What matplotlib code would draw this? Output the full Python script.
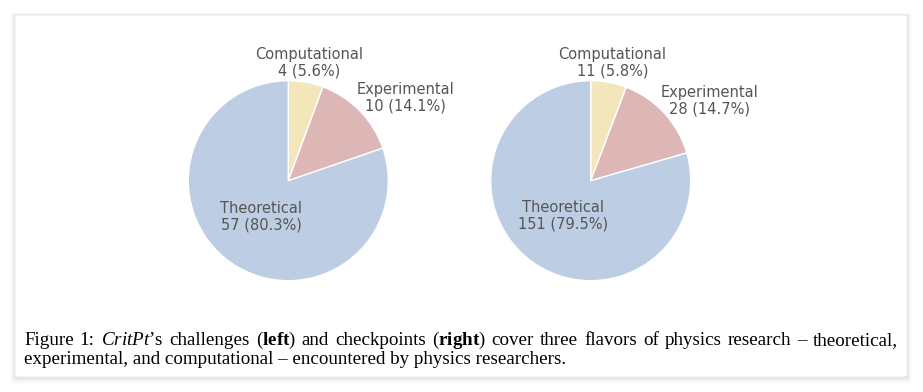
import numpy as np
import matplotlib
matplotlib.use('Agg')
import matplotlib.pyplot as plt
from matplotlib.patches import FancyBboxPatch

plt.rcParams['font.family'] = 'DejaVu Sans'
plt.rcParams['mathtext.fontset'] = 'custom'
plt.rcParams['mathtext.rm'] = 'Liberation Serif'
plt.rcParams['mathtext.it'] = 'Liberation Serif:italic'
plt.rcParams['mathtext.bf'] = 'Liberation Serif:bold'

categories = ['Computational', 'Experimental', 'Theoretical']
challenges = [4, 10, 57]
checkpoints = [11, 28, 151]
colors = ['#F2E6BA', '#DCB7B6', '#BDCDE3']

caption_1 = (r'Figure 1: $\mathit{CritPt}$’s challenges ($\mathbf{left}$) and checkpoints '
             r'($\mathbf{right}$) cover three flavors of physics research – theoretical,')
caption_2 = 'experimental, and computational – encountered by physics researchers.'

W, H = 923, 392
fig = plt.figure(figsize=(W / 100, H / 100), dpi=100)
fig.patch.set_facecolor('white')

# card with soft shadow
x0, y0, x1, y1 = 15, 15, 907, 377
for k, a in zip([5, 4, 3, 2, 1], [0.01, 0.015, 0.02, 0.03, 0.04]):
    sh = FancyBboxPatch((x0 / W, 1 - (y1 + k) / H), (x1 - x0) / W, (y1 - y0 + k) / H,
                        boxstyle='round,pad=%f,rounding_size=0.004' % (k / W),
                        transform=fig.transFigure, facecolor='black', edgecolor='none',
                        alpha=a, zorder=0)
    fig.add_artist(sh)
card = FancyBboxPatch((x0 / W, 1 - y1 / H), (x1 - x0) / W, (y1 - y0) / H,
                      boxstyle='round,pad=0,rounding_size=0.004',
                      transform=fig.transFigure, facecolor='white', edgecolor='#ececec',
                      linewidth=0.8, zorder=1)
fig.add_artist(card)

# label offsets (data units, pie radius = 1): per category
label_dist = {'Computational': 1.21, 'Experimental': 1.2, 'Theoretical': 0.43}
label_dx = {'Computational': 0.0, 'Experimental': 0.31, 'Theoretical': -0.02}


def draw_pie(cx, cy, values):
    ax = fig.add_axes([(cx - 150) / W, (H - cy - 150) / H, 300 / W, 300 / H])
    ax.set_zorder(2)
    wedges, _ = ax.pie(values, colors=colors, startangle=90, counterclock=False,
                       wedgeprops=dict(edgecolor='white', linewidth=1.0))
    ax.set_xlim(-1.5, 1.5)
    ax.set_ylim(-1.5, 1.5)
    ax.axis('off')
    total = sum(values)
    for w, name, v in zip(wedges, categories, values):
        mid = np.deg2rad((w.theta1 + w.theta2) / 2)
        d = label_dist[name]
        tx = d * np.cos(mid) + label_dx[name]
        ty = d * np.sin(mid) - 0.01
        ax.text(tx, ty, f'{name}\n{v} ({100 * v / total:.1f}%)', ha='center', va='center',
                multialignment='center', fontsize=10.5, color='#555555', linespacing=1.15)


draw_pie(288.3, 180.7, challenges)
draw_pie(590.7, 180.7, checkpoints)

# caption: first line justified to the full width, like LaTeX
CAP_FS = 13.7
renderer = fig.canvas.get_renderer()
words = caption_1.split(' ')
texts = [fig.text(0, 1 - 345 / H, wd, ha='left', va='baseline', fontsize=CAP_FS,
                  family='Liberation Serif', color='black', zorder=3) for wd in words]
widths = [t.get_window_extent(renderer).width for t in texts]
gap = (898 - 24 - sum(widths)) / (len(words) - 1)
x = 24.0
for t, wdt in zip(texts, widths):
    t.set_x(x / W)
    x += wdt + gap

fig.text(24 / W, 1 - 364.5 / H, caption_2, ha='left', va='baseline', fontsize=CAP_FS,
         family='Liberation Serif', color='black', zorder=3)

fig.savefig('out.png', dpi=100)
